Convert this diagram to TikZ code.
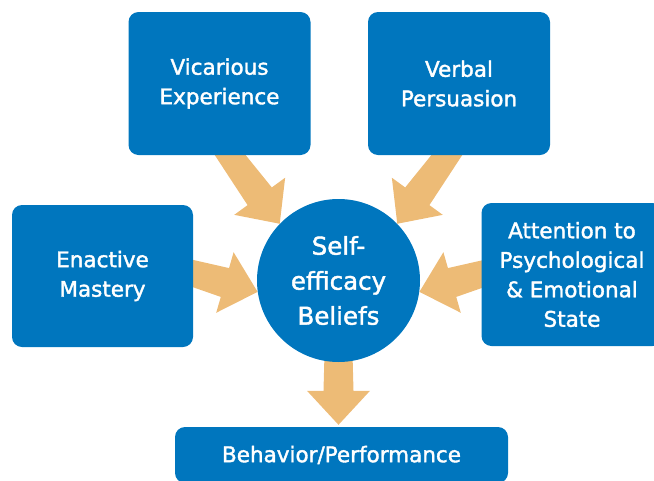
\documentclass[tikz,border=0pt]{standalone}
\usepackage{fontspec}
\setmainfont{DejaVu Sans}
\newfontfamily\lblfont[FakeBold=1.7]{DejaVu Sans}
\usetikzlibrary{calc}
\definecolor{boxblue}{RGB}{0,118,190}
\definecolor{arrowtan}{RGB}{237,187,118}
\pgfdeclarelayer{back}
\pgfsetlayers{back,main}
\tikzset{
  panel/.style={rectangle, fill=boxblue, rounded corners=10pt, text=white,
    align=center, inner sep=0pt, font=\lblfont\fontsize{21.5}{29.5}\selectfont},
  hub/.style={circle, fill=boxblue, text=white, align=center,
    minimum size=163pt, inner sep=0pt, font=\lblfont\fontsize{24.5}{35}\selectfont},
  arrowfill/.style={fill=arrowtan}
}
% wide block arrow from tail coordinate #1 to tip coordinate #2
\newcommand\fatarrow[2]{%
  \path ($(#2)!34pt!(#1)$) coordinate (fa-base);
  \fill[arrowfill] ($(#1)!12pt!90:(#2)$) -- ($(fa-base)!15pt!90:(#2)$)
    -- ($(fa-base)!31.5pt!90:(#2)$) -- (#2)
    -- ($(fa-base)!31.5pt!-90:(#2)$) -- ($(fa-base)!15pt!-90:(#2)$)
    -- ($(#1)!12pt!-90:(#2)$) -- cycle;}
\begin{document}
\begin{tikzpicture}[x=1pt,y=-1pt]
\useasboundingbox (0,0) rectangle (654,480);
\clip (0,0) rectangle (654,480);
% sources
\node[panel, minimum width=182pt, minimum height=143pt] (vic) at (219.5,83.5) {Vicarious\\Experience};
\node[panel, minimum width=182pt, minimum height=143pt] (verb) at (459,83.5) {Verbal\\Persuasion};
\node[panel, minimum width=181pt, minimum height=142pt] (enac) at (102.5,276) {Enactive\\Mastery};
\node[panel, minimum width=181pt, minimum height=143pt] (att) at (572,274.5) {Attention to\\Psychological\\\& Emotional\\State};
% outcome
\node[panel, minimum width=333pt, minimum height=56pt] (beh) at (341.5,455) {Behavior/Performance};
% centre
\node[hub] (self) at (338.5,280.5) {Self-\\efficacy\\Beliefs};
% arrow tails and tips
\coordinate (tl) at (224.4,147.9);
\coordinate (tr) at (452.6,147.9);
\coordinate (le) at (173.7,267.8);
\coordinate (ri) at (503.3,267.8);
\coordinate (bt) at ($(self.center |- beh.north)+(0,-2)$);
\begin{pgfonlayer}{back}
  \fatarrow{tl}{self.136}
  \fatarrow{tr}{self.44}
  \fatarrow{le}{self.188}
  \fatarrow{ri}{self.352}
  \fatarrow{self.center}{bt}
\end{pgfonlayer}
\end{tikzpicture}
\end{document}
